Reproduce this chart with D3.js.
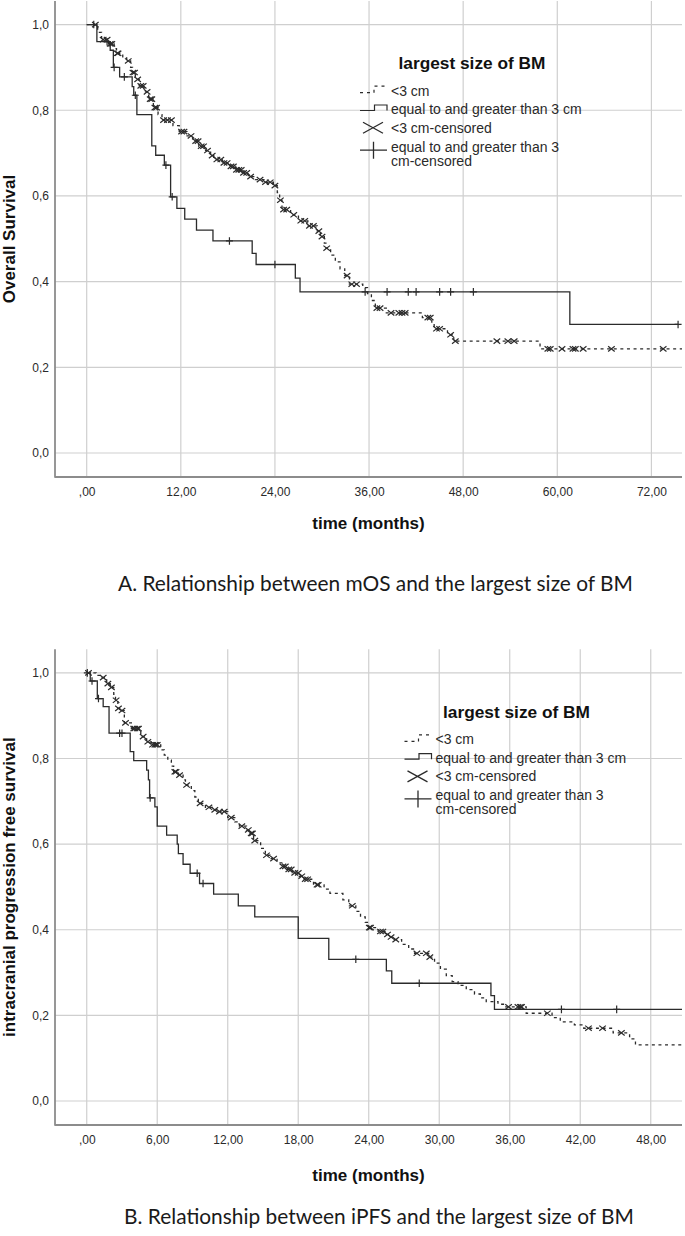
<!DOCTYPE html>
<html><head><meta charset="utf-8">
<script src="https://cdn.jsdelivr.net/npm/d3@7"></script>
<style>body{margin:0;background:#fff}svg{display:block}</style>
</head><body>
<svg id="c" width="685" height="1236"></svg>
<script>
// ---------- DATA ----------
const groupLabels = ["<3 cm", "equal to and greater than 3 cm", "<3 cm-censored", "equal to and greater than 3", "cm-censored"];
const legendTitle = "largest size of BM";
const yTicks = [0, 0.2, 0.4, 0.6, 0.8, 1.0];
const xTicksOS = [0, 12, 24, 36, 48, 60, 72];
const xTicksPFS = [0, 6, 12, 18, 24, 30, 36, 42, 48];

// Overall survival, <3 cm: [time, survival after drop]
const osSmallEvents = [[1.4,0.982],[1.9,0.965],[2.8,0.955],[3.5,0.944],[3.8,0.933],[4.6,0.922],[5.1,0.915],[5.6,0.900],[5.85,0.888],[6.2,0.872],[6.7,0.857],[7.3,0.843],[7.9,0.826],[8.5,0.806],[9.1,0.790],[9.6,0.777],[11.0,0.764],[11.8,0.750],[12.8,0.740],[13.5,0.728],[14.3,0.716],[15.0,0.706],[15.8,0.694],[16.2,0.685],[17.3,0.677],[18.3,0.669],[19.0,0.661],[19.9,0.654],[20.6,0.645],[21.5,0.638],[22.6,0.632],[23.8,0.624],[24.3,0.608],[24.6,0.590],[24.9,0.568],[26.0,0.556],[27.0,0.542],[28.2,0.530],[29.4,0.518],[29.8,0.505],[30.3,0.490],[30.5,0.478],[31.1,0.462],[31.7,0.446],[32.3,0.430],[32.9,0.414],[33.5,0.394],[35.2,0.386],[35.8,0.372],[36.3,0.356],[36.8,0.338],[38.2,0.327],[42.8,0.316],[44.0,0.302],[44.3,0.290],[46.0,0.276],[46.8,0.261],[57.8,0.243]];
const osSmallCensored = [1.1,2.1,2.6,3.0,3.2,3.9,4.0,5.3,5.9,6.1,6.5,6.9,7.2,7.7,8.1,8.3,8.7,8.9,9.8,10.3,10.8,12.1,12.4,13.3,13.9,14.2,14.6,14.9,15.4,16.0,16.6,17.1,17.5,17.9,18.4,18.7,19.1,19.4,19.7,20.0,20.4,20.9,22.1,22.8,23.4,24.0,24.7,25.1,25.5,26.4,27.3,27.8,28.4,28.9,29.6,30.0,30.6,33.2,33.8,34.4,37.0,37.4,38.8,39.8,40.2,40.6,43.5,43.8,44.6,45.0,46.4,47.0,52.3,53.7,54.5,58.8,59.1,60.6,62.0,62.3,63.3,66.9,73.5];
// Overall survival, >=3 cm
const osLargeEvents = [[1.3,0.96],[3.0,0.94],[3.4,0.90],[4.2,0.878],[5.8,0.855],[6.0,0.835],[6.4,0.79],[8.3,0.717],[8.8,0.695],[9.9,0.672],[10.7,0.598],[11.5,0.571],[12.5,0.546],[14.0,0.520],[16.1,0.495],[21.1,0.466],[21.6,0.440],[26.6,0.408],[27.2,0.376],[61.6,0.300]];
const osLargeCensored = [0.9,2.6,3.5,4.8,6.2,10.1,10.9,18.2,24.0,35.5,38.3,41.0,42.0,45.0,46.4,49.3,75.4];
const osEnd = [75.9, 75.4];

// Intracranial PFS, <3 cm
const pfsSmallEvents = [[0.8,0.994],[1.3,0.989],[1.7,0.975],[2.0,0.966],[2.3,0.950],[2.45,0.936],[2.65,0.917],[2.9,0.912],[3.2,0.883],[3.8,0.870],[4.6,0.851],[5.1,0.839],[5.5,0.832],[6.3,0.820],[6.6,0.808],[6.9,0.796],[7.2,0.782],[7.4,0.769],[7.8,0.761],[8.2,0.750],[8.4,0.738],[8.9,0.725],[9.2,0.710],[9.5,0.695],[10.1,0.686],[10.7,0.680],[11.2,0.676],[12.0,0.662],[12.6,0.652],[13.0,0.642],[13.6,0.633],[13.9,0.625],[14.2,0.608],[14.8,0.590],[15.2,0.574],[15.6,0.566],[16.2,0.556],[16.6,0.548],[17.0,0.541],[17.5,0.533],[18.1,0.525],[18.5,0.518],[19.3,0.505],[20.2,0.495],[20.7,0.485],[21.8,0.470],[22.3,0.456],[22.9,0.443],[23.3,0.430],[23.7,0.417],[24.0,0.405],[24.8,0.396],[25.4,0.389],[25.8,0.383],[26.2,0.377],[26.8,0.366],[27.4,0.355],[27.9,0.345],[29.1,0.336],[29.6,0.322],[30.1,0.308],[30.6,0.293],[31.1,0.279],[31.6,0.270],[32.3,0.260],[33.0,0.250],[33.5,0.241],[34.0,0.232],[35.0,0.226],[35.6,0.220],[37.4,0.205],[39.6,0.195],[40.3,0.185],[41.5,0.178],[42.3,0.170],[44.8,0.159],[46.2,0.145],[46.7,0.131]];
const pfsSmallCensored = [0.15,1.4,1.8,2.1,2.5,2.7,3.0,3.3,4.0,4.1,4.3,4.4,4.8,5.2,5.6,5.8,5.9,6.0,7.5,7.6,7.9,8.5,9.65,10.4,10.9,11.3,11.7,12.3,13.2,13.75,14.0,14.1,14.3,15.3,15.9,16.7,16.9,17.2,17.4,17.7,18.0,18.3,18.6,18.8,19.6,19.7,22.6,24.05,24.15,25.0,25.2,25.6,25.9,26.3,28.1,28.9,29.2,35.9,36.7,36.9,37.0,39.2,42.7,43.9,45.5];
// Intracranial PFS, >=3 cm
const pfsLargeEvents = [[0.3,0.981],[0.9,0.94],[1.4,0.921],[1.9,0.859],[3.7,0.816],[4.0,0.795],[5.1,0.773],[5.25,0.75],[5.35,0.708],[5.8,0.687],[6.0,0.642],[6.8,0.621],[7.7,0.600],[7.8,0.578],[8.2,0.553],[8.8,0.532],[9.6,0.508],[10.8,0.483],[12.9,0.456],[14.3,0.430],[18.0,0.380],[20.6,0.331],[25.5,0.304],[25.96,0.275],[34.4,0.246],[34.7,0.214]];
const pfsLargeCensored = [0.05,0.45,1.0,2.8,3.0,5.4,9.4,9.9,22.9,28.3,40.4,45.1];
const pfsEnd = [50.7, 50.7];

const panels = [
  {id:"A", yTitle:"Overall Survival", xTitle:"time (months)",
   caption:"A. Relationship between mOS and the largest size of BM",
   top:1, bottom:477, xDomain:[-4.04, 75.9], xTicks:xTicksOS,
   small:osSmallEvents, smallC:osSmallCensored, large:osLargeEvents, largeC:osLargeCensored, end:osEnd,
   legX:360, legY:63, xTitleY:523, capX:118, capW:515, capY:583},
  {id:"B", yTitle:"intracranial progression free survival", xTitle:"time (months)",
   caption:"B. Relationship between iPFS and the largest size of BM",
   top:649.3, bottom:1125, xDomain:[-2.70, 50.66], xTicks:xTicksPFS,
   small:pfsSmallEvents, smallC:pfsSmallCensored, large:pfsLargeEvents, largeC:pfsLargeCensored, end:pfsEnd,
   legX:404.5, legY:711.7, xTitleY:1175, capX:124, capW:510, capY:1216}
];

// ---------- DRAW ----------
const svg = d3.select("#c");
const LEFT = 55, RIGHT = 682;
const lineCol = "#2b2b2b", gridCol = "#cfcfcf", axisCol = "#8c8c8c", textCol = "#2a2a2a";
const FONT = "'Liberation Sans', Arial, sans-serif";

function survAt(events, t) {
  let s = 1;
  for (const [et, es] of events) { if (et <= t) s = es; else break; }
  return s;
}
function stepPath(events, endT, x, y) {
  let d = `M${x(0)},${y(1)}`;
  for (const [t, s] of events) { d += `H${x(t)}V${y(s)}`; }
  d += `H${x(endT)}`;
  return d;
}

panels.forEach((p, pi) => {
  const x = d3.scaleLinear().domain(p.xDomain).range([LEFT, RIGHT]);
  const y = d3.scaleLinear().domain([-0.056, 1.055]).range([p.bottom, p.top]);
  const g = svg.append("g");
  const clipId = "clip" + p.id;
  svg.append("clipPath").attr("id", clipId).append("rect")
    .attr("x", LEFT).attr("y", p.top).attr("width", RIGHT - LEFT).attr("height", p.bottom - p.top);

  // grid
  g.selectAll(".vg").data(p.xTicks).join("line")
    .attr("x1", d => x(d)).attr("x2", d => x(d)).attr("y1", p.top).attr("y2", p.bottom)
    .attr("stroke", gridCol).attr("stroke-width", 1.2);
  g.selectAll(".hg").data(yTicks).join("line")
    .attr("x1", LEFT).attr("x2", RIGHT).attr("y1", d => y(d)).attr("y2", d => y(d))
    .attr("stroke", gridCol).attr("stroke-width", 1.2);

  // axes
  const xAxis = d3.axisBottom(x).tickValues(p.xTicks).tickSize(0).tickPadding(10)
    .tickFormat(d => d === 0 ? ",00" : d + ",00");
  const gx = g.append("g").attr("transform", `translate(0,${p.bottom})`).call(xAxis);
  gx.select(".domain").remove();
  gx.attr("font-family", FONT);
  gx.selectAll("text").attr("font-family", FONT).attr("font-size", 12).attr("fill", textCol);

  const yAxis = d3.axisLeft(y).tickValues(yTicks).tickSize(0).tickPadding(6)
    .tickFormat(d => d3.format(".1f")(d).replace(".", ","));
  const gy = g.append("g").attr("transform", `translate(${LEFT},0)`).call(yAxis);
  gy.select(".domain").remove();
  gy.attr("font-family", FONT);
  gy.selectAll("text").attr("font-family", FONT).attr("font-size", 12).attr("fill", textCol);

  g.append("line").attr("x1", LEFT).attr("x2", LEFT).attr("y1", p.top).attr("y2", p.bottom + 0.8)
    .attr("stroke", axisCol).attr("stroke-width", 1.8);
  g.append("line").attr("x1", LEFT).attr("x2", RIGHT).attr("y1", p.bottom).attr("y2", p.bottom)
    .attr("stroke", axisCol).attr("stroke-width", 1.8);

  // curves
  const cg = g.append("g").attr("clip-path", `url(#${clipId})`);
  cg.append("path").attr("d", stepPath(p.small, p.end[0], x, y))
    .attr("fill", "none").attr("stroke", lineCol).attr("stroke-width", 1.3)
    .attr("stroke-dasharray", "3,3.6");
  cg.append("path").attr("d", stepPath(p.large, p.end[1], x, y))
    .attr("fill", "none").attr("stroke", lineCol).attr("stroke-width", 1.3);

  // censor marks
  cg.selectAll(".cx").data(p.smallC).join("path")
    .attr("d", t => { const cx = x(t), cy = y(survAt(p.small, t));
      return `M${cx-3.3},${cy-2.6}L${cx+3.3},${cy+2.6}M${cx-3.3},${cy+2.6}L${cx+3.3},${cy-2.6}`; })
    .attr("stroke", lineCol).attr("stroke-width", 1.2).attr("fill", "none");
  cg.selectAll(".cp").data(p.largeC).join("path")
    .attr("d", t => { const cx = x(t), cy = y(survAt(p.large, t));
      return `M${cx-3.5},${cy}H${cx+3.5}M${cx},${cy-3.8}V${cy+3.8}`; })
    .attr("stroke", lineCol).attr("stroke-width", 1.2).attr("fill", "none");

  // axis titles
  g.append("text").attr("x", (LEFT + RIGHT) / 2).attr("y", p.xTitleY).attr("dy", "0.35em")
    .attr("text-anchor", "middle").attr("font-family", FONT).attr("font-weight", "bold")
    .attr("font-size", 17).attr("fill", "#111").text(p.xTitle);
  g.append("text").attr("transform", `translate(9,${(p.top + p.bottom) / 2}) rotate(-90)`)
    .attr("dy", "0.35em").attr("text-anchor", "middle").attr("font-family", FONT)
    .attr("font-weight", "bold").attr("font-size", 17).attr("fill", "#111").text(p.yTitle);

  // legend
  const lx = p.legX, ly = p.legY;
  const lg = g.append("g");
  lg.append("text").attr("x", lx + 112).attr("y", ly).attr("dy", "0.35em").attr("text-anchor", "middle")
    .attr("font-family", FONT).attr("font-weight", "bold").attr("font-size", 17.3).attr("fill", "#111")
    .text(legendTitle);
  const rows = [27.7, 46, 64.7, 83.7, 97.7];
  rows.forEach((r, i) => {
    lg.append("text").attr("x", lx + 31).attr("y", ly + r).attr("dy", "0.35em")
      .attr("font-family", FONT).attr("font-size", 14).attr("fill", textCol).text(groupLabels[i]);
  });
  const r0 = ly + rows[0], r1 = ly + rows[1], r2 = ly + rows[2], r3 = ly + rows[3] + 3.5;
  lg.append("path").attr("d", `M${lx},${r0 + 2}H${lx + 14}V${r0 - 4.5}H${lx + 28}`)
    .attr("fill", "none").attr("stroke", lineCol).attr("stroke-width", 1.2).attr("stroke-dasharray", "3,4");
  lg.append("path").attr("d", `M${lx},${r1 + 1.5}H${lx + 14.5}V${r1 - 4}H${lx + 27}V${r1 + 1.5}`)
    .attr("fill", "none").attr("stroke", lineCol).attr("stroke-width", 1.2);
  lg.append("path").attr("d", `M${lx + 3},${r2 - 5.5}L${lx + 23},${r2 + 5.5}M${lx + 3},${r2 + 5.5}L${lx + 23},${r2 - 5.5}`)
    .attr("fill", "none").attr("stroke", lineCol).attr("stroke-width", 1.3);
  lg.append("path").attr("d", `M${lx},${r3}H${lx + 27}M${lx + 13.5},${r3 - 8.5}V${r3 + 8.5}`)
    .attr("fill", "none").attr("stroke", lineCol).attr("stroke-width", 1.3);

  // caption
  svg.append("text").attr("x", p.capX).attr("y", p.capY).attr("dy", "0.35em")
    .attr("font-family", "Lato, 'Open Sans', sans-serif").attr("font-size", 22).attr("fill", "#1a1a1a")
    .attr("textLength", p.capW).attr("lengthAdjust", "spacingAndGlyphs").text(p.caption);
});
</script>
</body></html>
